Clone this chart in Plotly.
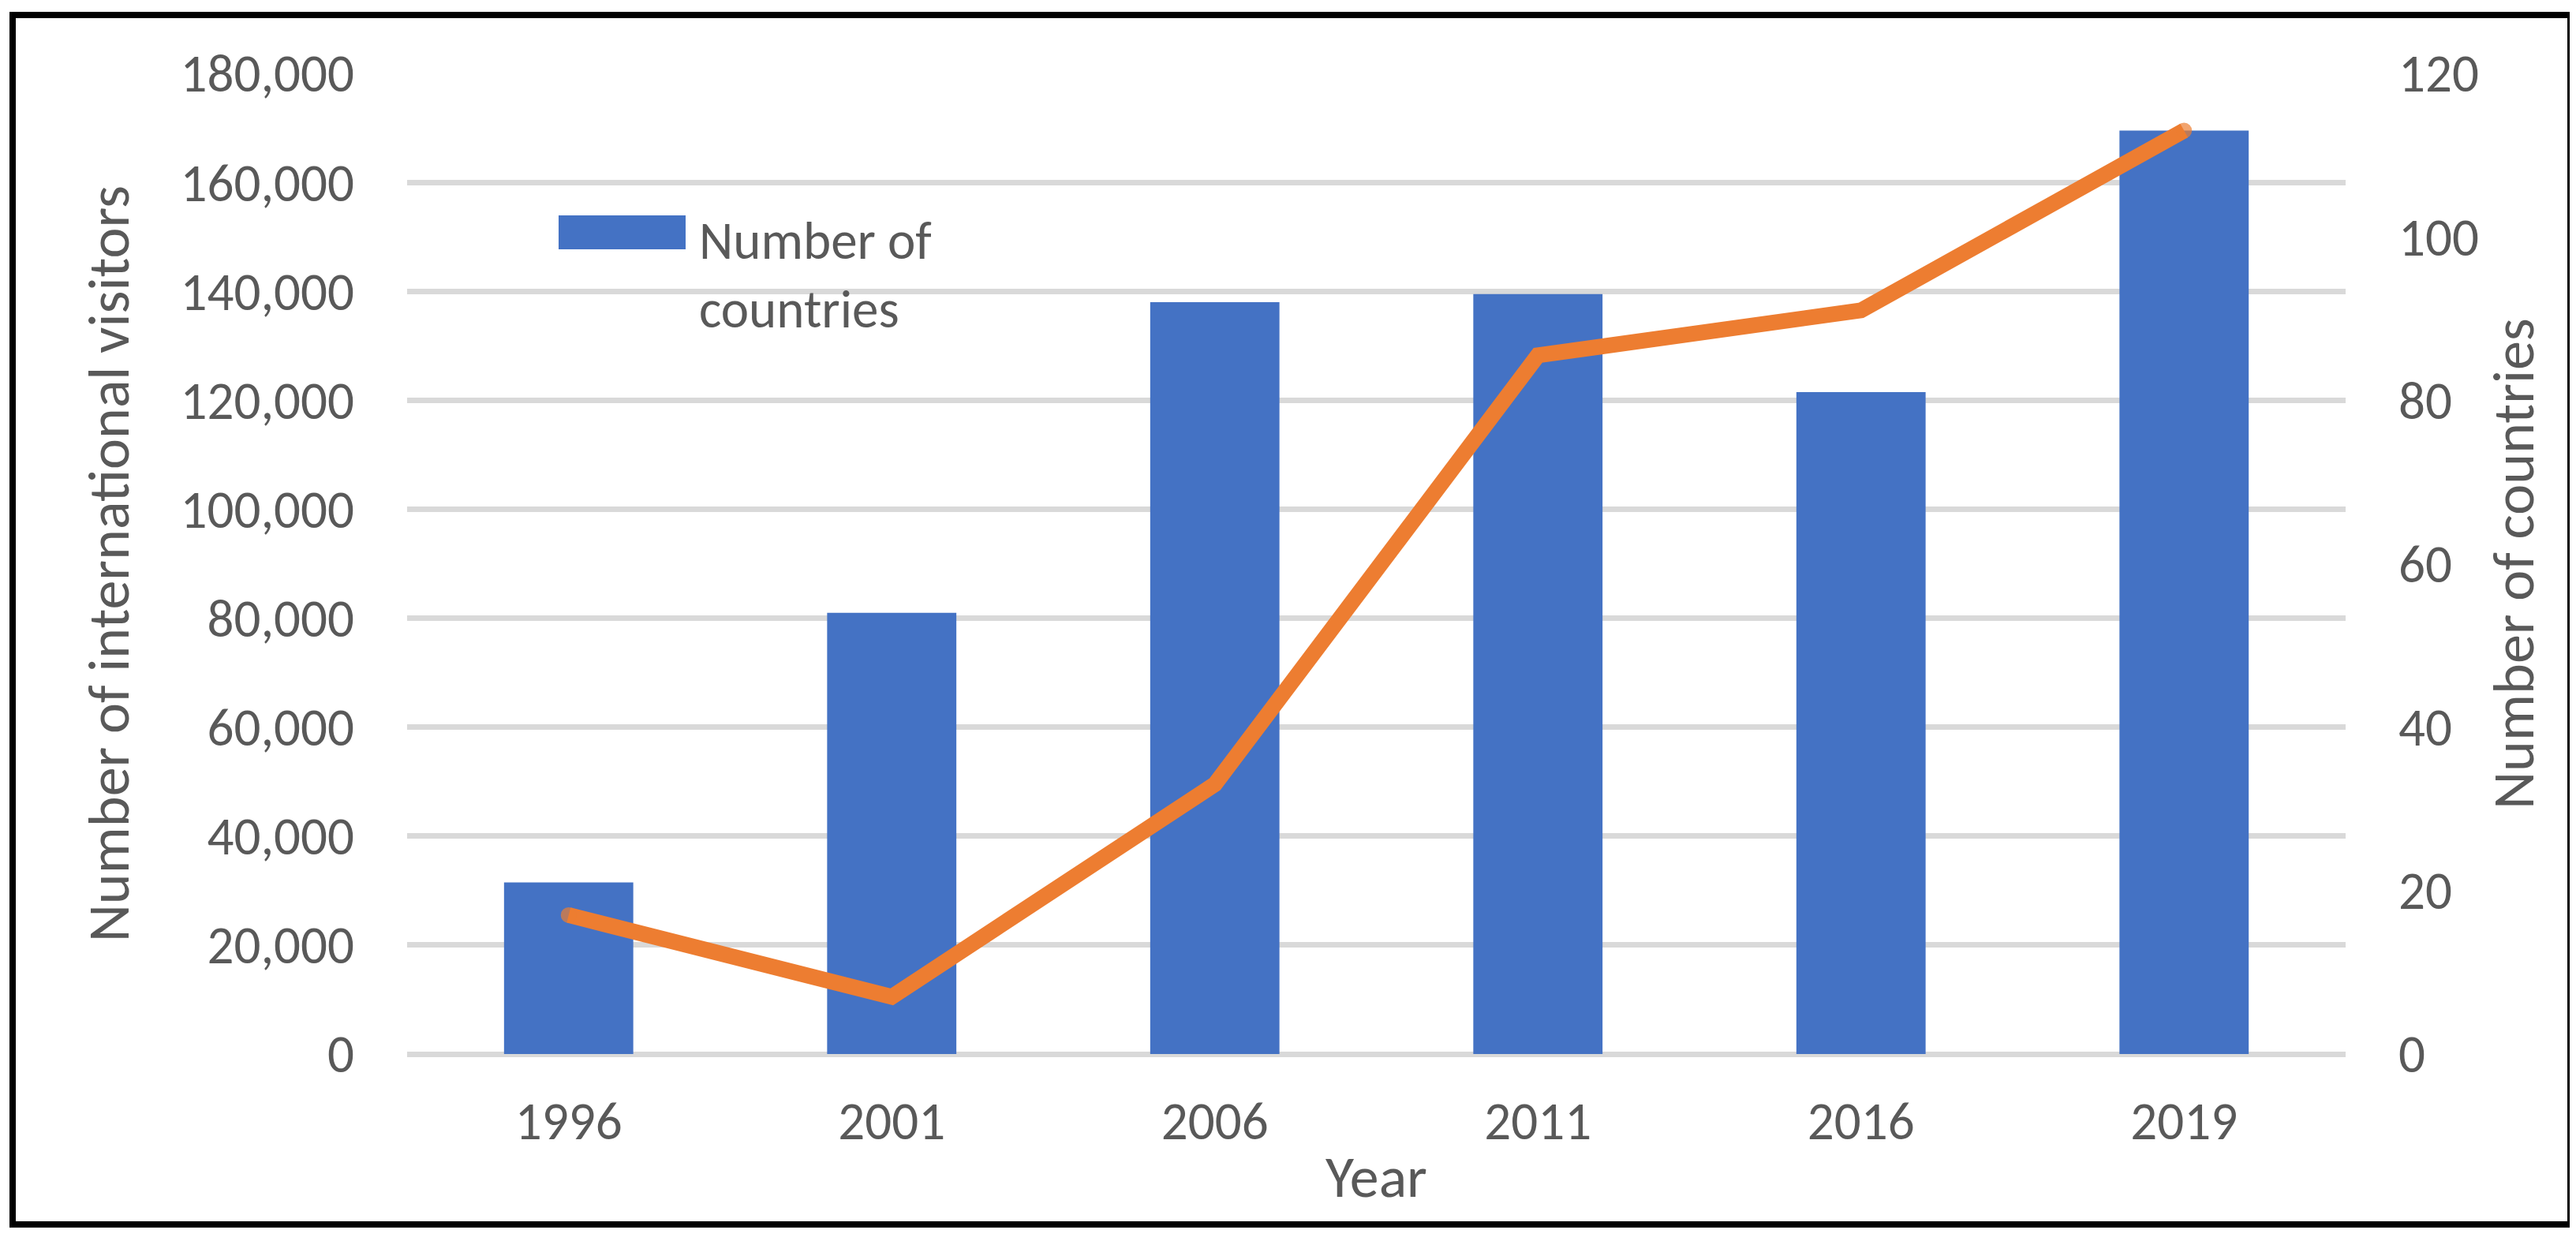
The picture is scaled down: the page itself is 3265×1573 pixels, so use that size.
import plotly.graph_objects as go

# ---- data ----
years = ["1996", "2001", "2006", "2011", "2016", "2019"]
visitors = [31500, 81000, 138000, 139500, 121500, 169500]
countries = [17, 7, 33, 85.5, 91, 113]

left_ticks = list(range(0, 180001, 20000))
right_ticks = list(range(0, 121, 20))

# ---- geometry (reference pixel space) ----
WIN_W, WIN_H = 3265, 1573
OFF = 8  # default body margin of the html page
W, H = WIN_W - 2 * OFF, WIN_H - 2 * OFF
PL, PR, PT, PB = 516, 2973, 93, 1336  # plot area in reference pixels
pw, ph = PR - PL, PB - PT


def px(x):
    return (x - PL) / pw


def py(y):
    return (PB - y) / ph


FONT = "Carlito, Lato, sans-serif"
GREY = "#595959"
TICK = 67
TITLE = 74

fig = go.Figure()
fig.add_trace(go.Bar(
    x=years, y=visitors, width=0.4, marker_color="#4472C4",
    marker_line_width=0, name="Number of international visitors", showlegend=False,
))
fig.add_trace(go.Scatter(
    x=years, y=countries, yaxis="y2", mode="lines+markers",
    line=dict(color="#ED7D31", width=20),
    marker=dict(color="#ED7D31", size=[20, 0, 0, 0, 0, 20], line_width=0),
    name="Number of countries", showlegend=False,
))

fig.update_layout(
    width=W, height=H, autosize=False,
    margin=dict(l=PL - OFF, r=W - (PR - OFF), t=PT - OFF, b=H - (PB - OFF), pad=0),
    paper_bgcolor="white", plot_bgcolor="white",
    font=dict(family=FONT, color=GREY, size=TICK),
    bargap=0.6,
    xaxis=dict(
        type="category", showgrid=False, showline=False, zeroline=False,
        ticks="", tickfont=dict(size=TICK, color=GREY), ticklabelstandoff=40,
        title=dict(text="Year", font=dict(size=TITLE, color=GREY), standoff=4),
    ),
    yaxis=dict(
        range=[0, 180000], tickvals=left_ticks, tickformat=",",
        showgrid=True, gridcolor="#D9D9D9", gridwidth=7,
        zeroline=True, zerolinecolor="#D9D9D9", zerolinewidth=7,
        showline=False, ticks="", tickfont=dict(size=TICK, color=GREY),
        ticklabelstandoff=66,
        title=dict(text="Number of international visitors",
                   font=dict(size=TITLE, color=GREY), standoff=40),
    ),
    yaxis2=dict(
        overlaying="y", side="right", range=[0, 120], tickvals=right_ticks,
        showgrid=False, zeroline=False, showline=False, ticks="",
        tickfont=dict(size=TICK, color=GREY), ticklabelstandoff=66,
        title=dict(text="Number of countries",
                   font=dict(size=TITLE, color=GREY), standoff=18),
    ),
    shapes=[
        # manual legend swatch
        dict(type="rect", xref="paper", yref="paper",
             x0=px(708), x1=px(869), y0=py(316), y1=py(273),
             fillcolor="#4472C4", line_width=0),
        # outer black frame
        dict(type="rect", xref="paper", yref="paper",
             x0=px(16), x1=px(3258), y0=py(1552), y1=py(19),
             line=dict(color="black", width=8), fillcolor="rgba(0,0,0,0)"),
    ],
    annotations=[
        dict(text="Number of<br>countries", xref="paper", yref="paper",
             x=px(884), y=py(262), xanchor="left", yanchor="top",
             align="left", showarrow=False,
             font=dict(size=TICK, color=GREY, family=FONT)),
    ],
)

fig.write_html("out.html")
